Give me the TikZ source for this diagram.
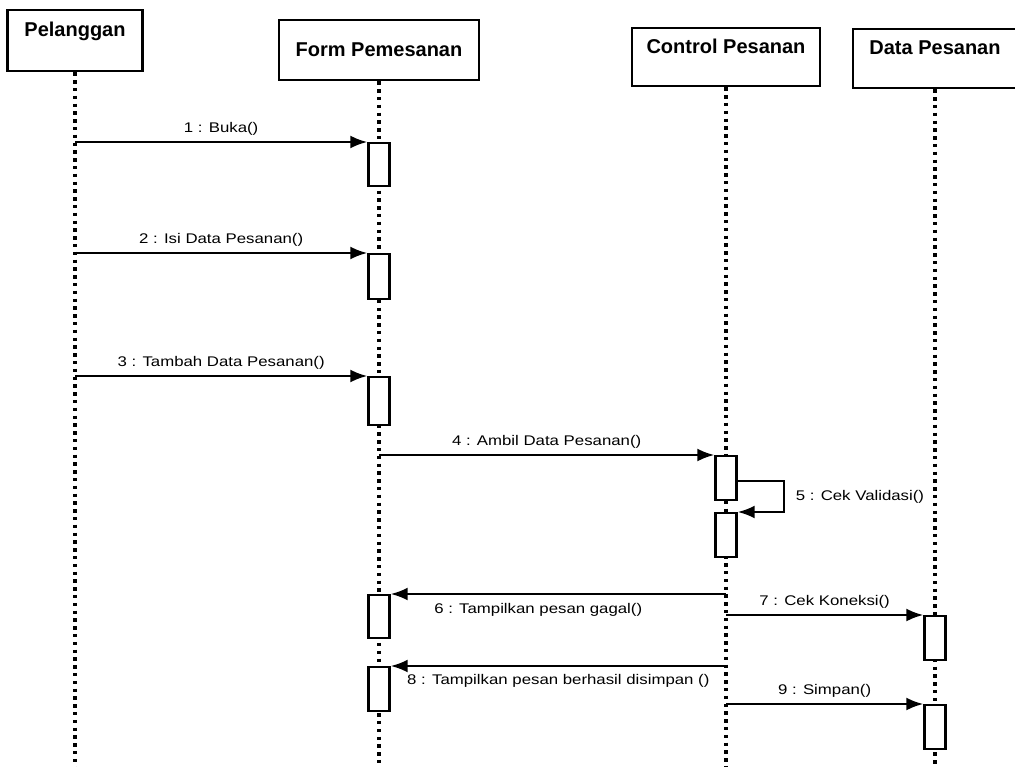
\documentclass[tikz,border=0pt]{standalone}
\usepackage{fontspec}
\setmainfont{Liberation Sans}
\newfontfamily\msgfont[FakeStretch=1.2]{Liberation Sans}
\usetikzlibrary{arrows.meta}

\begin{document}
\begin{tikzpicture}[x=1pt, y=-1pt,
    head/.style={draw, line width=2.7pt, font=\bfseries\fontsize{20}{24}\selectfont,
                 minimum height=60pt, text height=15pt, text depth=22pt, inner sep=0pt},
    life/.style={line width=3.6pt, dash pattern=on 3.4pt off 4.4pt},
    act/.style={draw, fill=white, line width=2.4pt, anchor=north,
                minimum width=21pt, minimum height=44pt, inner sep=0pt},
    msg/.style={line width=2.3pt, -{Latex[length=17pt,width=13pt]}},
    lbl/.style={font=\msgfont\fontsize{14}{16}\selectfont, inner sep=2pt}]
  \clip (0,0) rectangle (1015,767);
  % objects
  \node[head, minimum width=135pt, minimum height=61pt] (p) at (75,40.5) {Pelanggan};
  \node[head, minimum width=200pt, text depth=2pt] (f) at (379,50) {Form Pemesanan};
  \node[head, minimum width=188pt, minimum height=58pt] (c) at (726,57) {Control Pesanan};
  \node[head, minimum width=164pt, minimum height=59pt] (d) at (935,58.5) {Data Pesanan};
  % lifelines
  \coordinate (bot) at (0,770);
  \foreach \o in {p,f,c,d}
    \draw[life] (\o.south) -- (\o |- bot);
  % activations
  \node[act, minimum height=43pt] (f1) at (f |- 0,142) {};
  \node[act, minimum height=45pt] (f2) at (f |- 0,253) {};
  \node[act, minimum height=48pt] (f3) at (f |- 0,376) {};
  \node[act] (c1) at (c |- 0,455) {};
  \node[act] (c2) at (c |- 0,512) {};
  \node[act, minimum height=43pt] (f4) at (f |- 0,594) {};
  \node[act] (d1) at (d |- 0,615) {};
  \node[act] (f5) at (f |- 0,666) {};
  \node[act] (d2) at (d |- 0,704) {};
  % messages
  \draw[msg] (p |- f1.north) -- (f1.north west) node[lbl, midway, above=3pt] {1 : Buka()};
  \draw[msg] (p |- f2.north) -- (f2.north west) node[lbl, midway, above=3pt] {2 : Isi Data Pesanan()};
  \draw[msg] (p |- f3.north) -- (f3.north west) node[lbl, midway, above=3pt] {3 : Tambah Data Pesanan()};
  \draw[msg] (f |- c1.north) -- (c1.north west) node[lbl, midway, above=3pt] {4 : Ambil Data Pesanan()};
  \draw[msg] ([yshift=-26pt]c1.north east) -- ++(46,0) |- (c2.north east)
    node[lbl, pos=.25, right=9pt] {5 : Cek Validasi()};
  \draw[msg] (c |- f4.north) -- (f4.north east) node[lbl, pos=.56, below=6pt] {6 : Tampilkan pesan gagal()};
  \draw[msg] (c |- d1.north) -- (d1.north west) node[lbl, midway, above=3pt] {7 : Cek Koneksi()};
  \draw[msg] (c |- f5.north) -- (f5.north east) node[lbl, midway, below=5pt] {8 : Tampilkan pesan berhasil disimpan ()};
  \draw[msg] (c |- d2.north) -- (d2.north west) node[lbl, midway, above=3pt] {9 : Simpan()};
\end{tikzpicture}
\end{document}
